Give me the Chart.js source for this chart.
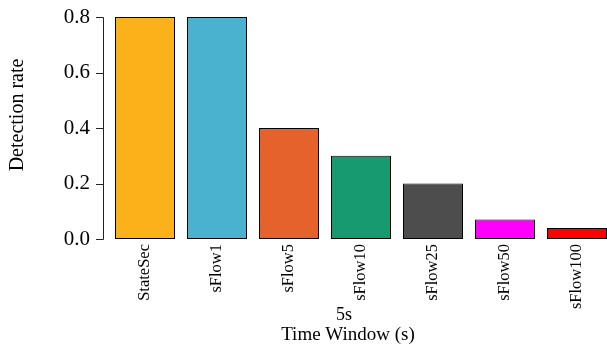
<!DOCTYPE html>
<html>
<head>
<meta charset="utf-8">
<script src="https://cdn.jsdelivr.net/npm/chart.js@4"></script>
<style>
  html, body { margin: 0; padding: 0; background: #fff; overflow: hidden; }
  #wrap { width: 613px; height: 345px; }
</style>
</head>
<body>
<div id="wrap"><canvas id="c" width="613" height="345"></canvas></div>
<script>
// Detection rate per method, 5 s time window
const methods = ['StateSec', 'sFlow1', 'sFlow5', 'sFlow10', 'sFlow25', 'sFlow50', 'sFlow100'];
const detectionRate = [0.8, 0.8, 0.4, 0.3, 0.2, 0.07, 0.04];
const barColors = ['#FBB119', '#4AB1CF', '#E5632A', '#189A71', '#4D4D4D', '#FF00FF', '#FF0000'];
const yTicks = [0.0, 0.2, 0.4, 0.6, 0.8];
const windowLabel = '5s';
const xTitle = 'Time Window (s)';
const yTitle = 'Detection rate';

const SERIF = "'Liberation Serif', 'Times New Roman', Times, serif";
Chart.defaults.color = '#000';

// Base-graphics style axis: line spanning the tick range, offset left of the bars
const rAxis = {
  id: 'rAxis',
  afterDraw(chart) {
    const ctx = chart.ctx;
    const y = chart.scales.y;
    const ax = chart.chartArea.left - 6;
    ctx.save();
    ctx.strokeStyle = '#222';
    ctx.lineWidth = 1;
    ctx.beginPath();
    const top = Math.round(y.getPixelForValue(yTicks[yTicks.length - 1])) + 0.5;
    const bot = Math.round(y.getPixelForValue(yTicks[0])) + 0.5;
    ctx.moveTo(ax + 0.5, top);
    ctx.lineTo(ax + 0.5, bot);
    yTicks.forEach(v => {
      const py = Math.round(y.getPixelForValue(v)) + 0.5;
      ctx.moveTo(ax + 0.5, py);
      ctx.lineTo(ax - 7, py);
    });
    ctx.stroke();

    ctx.fillStyle = '#000';
    ctx.textAlign = 'center';
    ctx.textBaseline = 'alphabetic';
    ctx.font = '18px ' + SERIF;
    ctx.fillText(windowLabel, 344, 320);
    ctx.font = '19px ' + SERIF;
    ctx.fillText(xTitle, 348, 339.5);

    ctx.translate(18, 115);
    ctx.rotate(-Math.PI / 2);
    ctx.font = '20px ' + SERIF;
    ctx.textBaseline = 'middle';
    ctx.fillText(yTitle, 0, 0);
    ctx.restore();
  }
};

new Chart(document.getElementById('c'), {
  type: 'bar',
  data: {
    labels: methods,
    datasets: [{
      data: detectionRate,
      backgroundColor: barColors,
      borderColor: '#000',
      borderWidth: 1,
      borderSkipped: false,
      categoryPercentage: 1,
      barPercentage: 1 / 1.2
    }]
  },
  options: {
    responsive: false,
    animation: false,
    devicePixelRatio: 1,
    layout: { padding: { top: 17, right: 0, bottom: 0, left: 0 } },
    plugins: { legend: { display: false }, tooltip: { enabled: false } },
    scales: {
      x: {
        grid: { display: false, drawTicks: false },
        border: { display: false },
        ticks: {
          autoSkip: false,
          minRotation: 90,
          maxRotation: 90,
          padding: 5,
          font: { family: SERIF, size: 16.5 }
        },
        afterFit(s) { s.height = 106; }
      },
      y: {
        min: yTicks[0],
        max: yTicks[yTicks.length - 1],
        grid: { display: false, drawTicks: false },
        border: { display: false },
        afterBuildTicks(s) { s.ticks = yTicks.map(v => ({ value: v })); },
        ticks: {
          padding: 19,
          font: { family: SERIF, size: 21 },
          callback: v => v.toFixed(1)
        },
        afterFit(s) { s.width = 109; s.paddingTop = 0; s.paddingBottom = 0; }
      }
    }
  },
  plugins: [rAxis]
});
</script>
</body>
</html>
